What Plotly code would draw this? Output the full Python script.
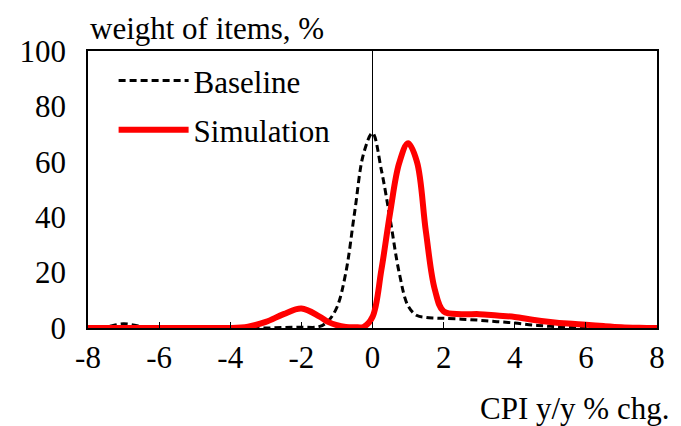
import plotly.graph_objects as go

# ---- data ----
x_vals = [-8, -7.5, -7, -6.5, -6, -5.5, -5, -4.5, -4, -3.5, -3, -2.5, -2, -1.5,
          -1.25, -1, -0.75, -0.5, -0.25, 0, 0.25, 0.5, 0.75, 1, 1.25, 1.5, 1.75,
          2, 2.5, 3, 3.5, 4, 4.5, 5, 5.5, 6, 6.5, 7, 7.5, 8]
baseline = [0, 0.4, 1.5, 0.6, 0, 0, 0, 0, 0, 0, 0, 0.2, 0.3, 0.5,
            2.5, 7.5, 20, 42, 63, 70.4, 57, 39, 20, 8, 4.5, 3.8, 3.6,
            3.5, 3.2, 2.8, 2.3, 1.8, 1.1, 0.6, 0.3, 0.1, 0, 0, 0, 0]
simulation = [0, 0, 0, 0, 0, 0, 0, 0, 0, 0.5, 2.2, 5, 7, 4.2,
              2.2, 1, 0.4, 0.3, 0.4, 4, 21, 42, 59.5, 66.7, 60, 35, 14,
              6, 5, 5, 4.5, 4, 3, 2.2, 1.6, 1.2, 0.7, 0.3, 0.1, 0]
series_names = ["Baseline", "Simulation"]
x_ticks = [-8, -6, -4, -2, 0, 2, 4, 6, 8]
x_tick_labels = ["-8", "-6", "-4", "-2", "0", "2", "4", "6", "8"]
y_ticks = [0, 20, 40, 60, 80, 100]
y_title = "weight of items, %"
x_title = "CPI y/y % chg."

FONT = "Liberation Serif"
FS = 31

fig = go.Figure()
fig.add_trace(go.Scatter(
    x=x_vals, y=baseline, name=series_names[0], mode="lines",
    line=dict(color="black", width=3, dash="7px,4px", shape="spline", smoothing=1),
    legendgroup="a"))
fig.add_trace(go.Scatter(
    x=x_vals, y=simulation, name=series_names[1], mode="lines",
    line=dict(color="#ff0000", width=6, shape="spline", smoothing=1),
    legendgroup="b"))

fig.update_layout(
    width=673, height=418, autosize=False,
    margin=dict(l=77, r=24, t=43, b=98),
    paper_bgcolor="white", plot_bgcolor="white",
    font=dict(family=FONT, size=FS, color="black"),
    showlegend=True,
    legend=dict(x=0.045, y=0.99, xanchor="left", yanchor="top",
                bgcolor="rgba(0,0,0,0)", font=dict(family=FONT, size=FS),
                tracegroupgap=6, itemwidth=70),
    xaxis=dict(range=[-8, 8], tickvals=x_ticks, ticktext=x_tick_labels,
               showgrid=False, zeroline=True, zerolinecolor="black", zerolinewidth=1.4,
               showline=True, linecolor="black", linewidth=1.5, mirror=True,
               ticks="inside", ticklen=6, tickcolor="black", tickwidth=1.2,
               ticklabelstandoff=1, tickfont=dict(family=FONT, size=FS)),
    yaxis=dict(range=[0, 100], tickvals=y_ticks,
               showgrid=False, zeroline=False,
               showline=True, linecolor="black", linewidth=1.5, mirror=True,
               ticks="", ticklabelstandoff=14, tickfont=dict(family=FONT, size=FS)),
    annotations=[
        dict(text=y_title, xref="paper", yref="paper", x=0, y=1, xanchor="left",
             yanchor="bottom", yshift=3, xshift=0, showarrow=False,
             font=dict(family=FONT, size=FS)),
        dict(text=x_title, xref="paper", yref="paper", x=1, y=0, xanchor="right",
             yanchor="top", yshift=-61, xshift=14, showarrow=False,
             font=dict(family=FONT, size=FS)),
    ],
)

fig.write_html("out.html")
